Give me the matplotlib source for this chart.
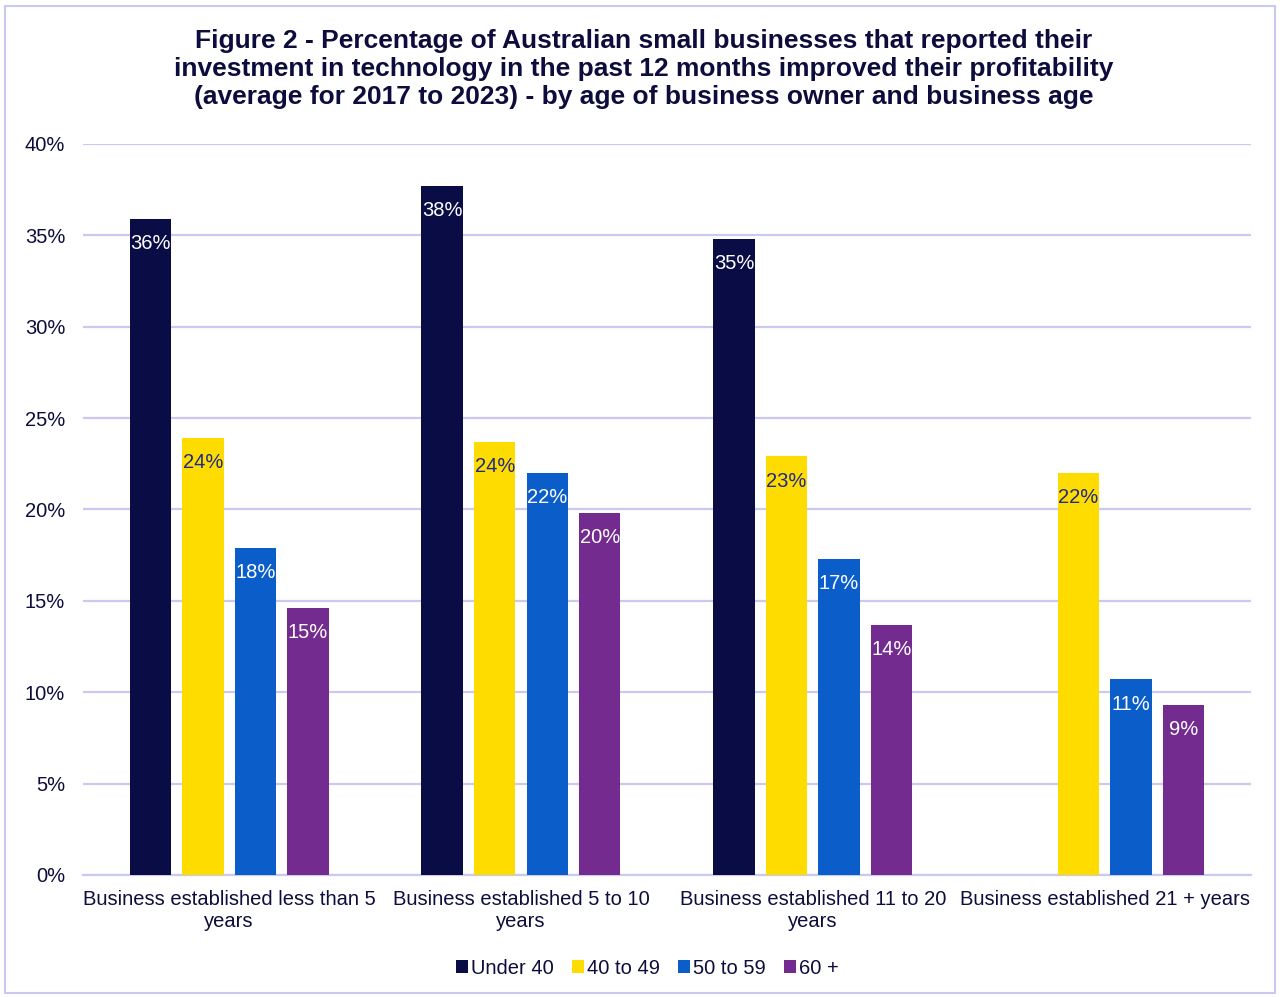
import numpy as np
import matplotlib.pyplot as plt
from matplotlib.patches import Rectangle

plt.rcParams["font.family"] = ["Liberation Sans", "DejaVu Sans"]

CATEGORIES = [
    "Business established less than 5\nyears",
    "Business established 5 to 10\nyears",
    "Business established 11 to 20\nyears",
    "Business established 21 + years",
]
SERIES = ["Under 40", "40 to 49", "50 to 59", "60 +"]
VALUES = [
    [35.9, 37.7, 34.8, np.nan],   # Under 40 (no value for 21+ years)
    [23.9, 23.7, 22.9, 22.0],     # 40 to 49
    [17.9, 22.0, 17.3, 10.7],     # 50 to 59
    [14.6, 19.8, 13.7, 9.3],      # 60 +
]
COLORS = ["#0a0c45", "#ffdc00", "#0b5ec9", "#742b8f"]
LABEL_COLORS = ["white", "#1f2a8c", "white", "white"]
TEXT = "#0d0d3d"
GRID = "#c9c9f2"

fig = plt.figure(figsize=(12.8, 9.97), dpi=100)
fig.patches.append(Rectangle((0.004, 0.004), 0.992, 0.99, transform=fig.transFigure,
                             fill=False, edgecolor=GRID, linewidth=1.5))
ax = fig.add_axes([0.065, 0.1224, 0.912, 0.7332])

x = np.arange(len(CATEGORIES))
width = 0.142
offsets = [-0.27, -0.09, 0.09, 0.27]

for vals, name, col, lcol, off in zip(VALUES, SERIES, COLORS, LABEL_COLORS, offsets):
    bars = ax.bar(x + off, vals, width, color=col, label=name, zorder=3)
    for xi, v in zip(x + off, vals):
        if np.isnan(v):
            continue
        ax.annotate(f"{v:.0f}%", (xi, v), xytext=(0, -11), textcoords="offset points",
                    ha="center", va="top", fontsize=14.5, color=lcol, zorder=4)

ax.set_xlim(-0.5, len(CATEGORIES) - 0.5)
ax.set_ylim(0, 40)
ax.set_yticks(np.arange(0, 41, 5))
ax.set_yticklabels([f"{t}%" for t in range(0, 41, 5)])
ax.set_xticks(x)
ax.set_xticklabels(CATEGORIES, linespacing=1.2)
ax.tick_params(axis="both", length=0, labelsize=14.5, colors=TEXT)
ax.tick_params(axis="x", pad=11)
ax.tick_params(axis="y", pad=13)
ax.grid(axis="y", color=GRID, linewidth=1.6, zorder=0)
for side in ["top", "right", "left"]:
    ax.spines[side].set_visible(False)
ax.spines["bottom"].set_color(GRID)
ax.spines["bottom"].set_linewidth(1.6)

fig.text(0.503, 0.931,
         "Figure 2 - Percentage of Australian small businesses that reported their\n"
         "investment in technology in the past 12 months improved their profitability\n"
         "(average for 2017 to 2023) - by age of business owner and business age",
         ha="center", va="center", fontsize=19, fontweight="bold", color=TEXT,
         linespacing=1.2)

fig.legend(loc="center", bbox_to_anchor=(0.506, 0.029), ncol=4, frameon=False,
           fontsize=14.5, handlelength=0.6, handleheight=0.6, handletextpad=0.15,
           columnspacing=0.9, labelcolor=TEXT)

fig.savefig("out.png", dpi=100)
